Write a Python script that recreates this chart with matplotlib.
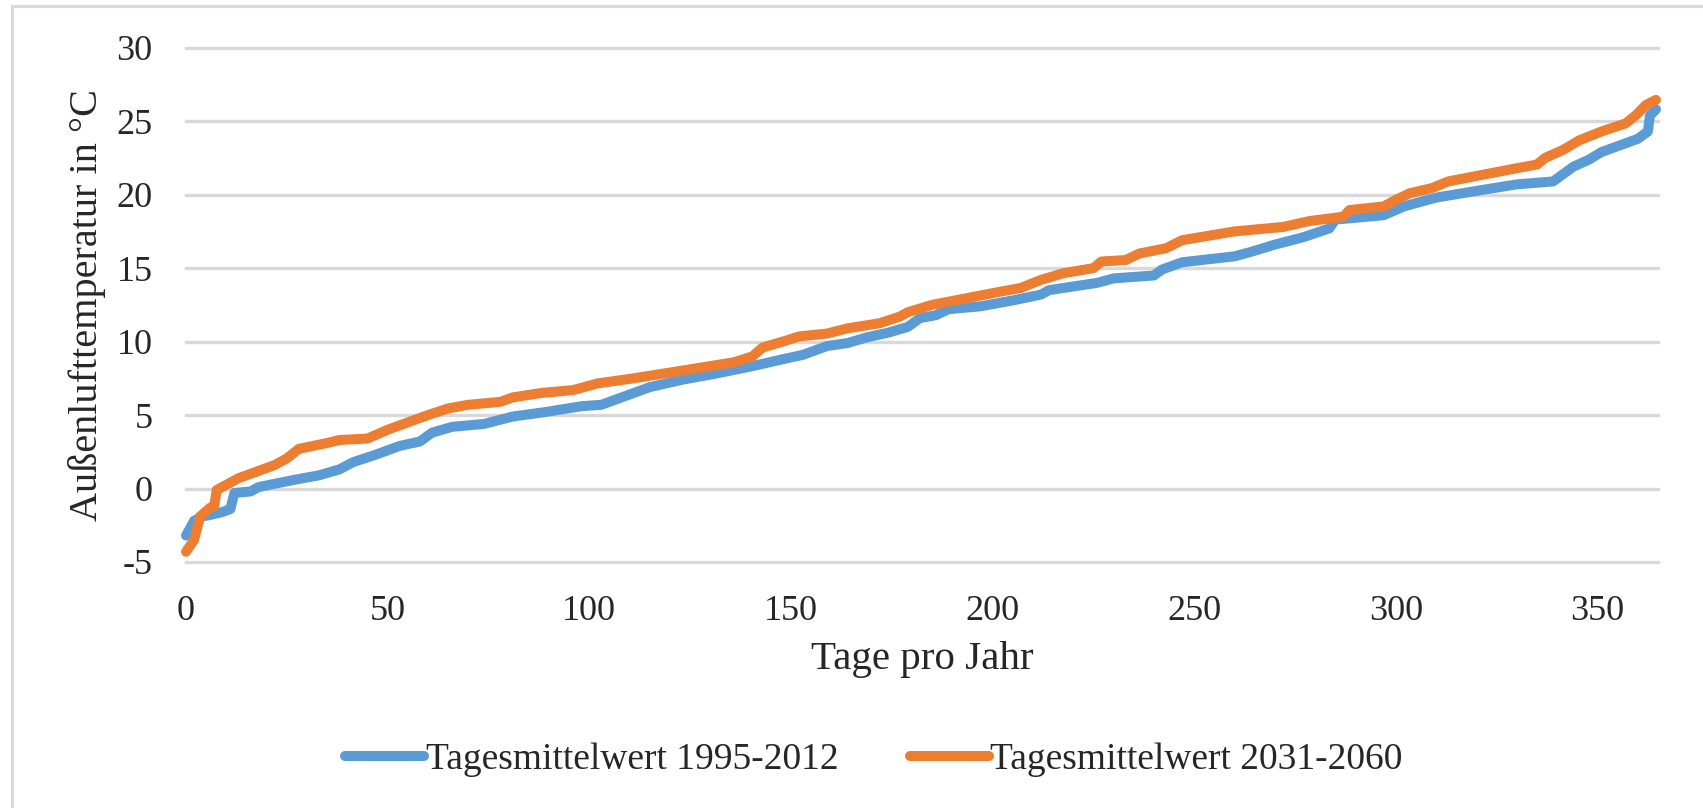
import matplotlib
matplotlib.use("Agg")
import matplotlib.pyplot as plt
from matplotlib.patches import Rectangle

# Tagesmittelwerte, sortiert (Dauerlinie)
days_1995 = [0, 2, 4, 6, 9, 11, 12, 16, 18, 27, 33, 38, 41.5, 47, 53, 58, 61, 66,
             74, 81, 89, 98, 103, 109, 115, 123, 131, 140, 148, 153, 159, 164,
             169, 174, 179, 182, 186, 189, 197, 205, 212, 214, 226, 230, 240,
             242, 247, 260, 264, 270, 277, 283.5, 285, 297, 302, 310, 321, 330,
             339, 341, 344, 348, 351, 356, 360, 362.5, 363, 364.5]
temp_1995 = [-3.2, -2.2, -1.9, -1.8, -1.6, -1.4, -0.3, -0.2, 0.1, 0.6, 0.9, 1.3,
             1.8, 2.3, 2.9, 3.2, 3.8, 4.2, 4.4, 4.9, 5.2, 5.6, 5.7, 6.3, 6.9,
             7.4, 7.8, 8.3, 8.8, 9.1, 9.7, 9.9, 10.3, 10.6, 11.0, 11.6, 11.8,
             12.2, 12.4, 12.8, 13.2, 13.5, 14.0, 14.3, 14.5, 14.9, 15.4, 15.8,
             16.1, 16.6, 17.1, 17.7, 18.3, 18.6, 19.2, 19.8, 20.3, 20.7, 20.9,
             21.3, 21.9, 22.4, 22.9, 23.4, 23.8, 24.3, 25.4, 25.8]

days_2031 = [0, 2, 3.5, 6, 7, 7.6, 10, 13, 17.5, 22, 25, 28, 35, 38, 45, 50, 55,
             60, 65, 70, 78, 81, 88, 96, 102, 111, 119, 127, 136, 140.5, 143,
             148, 152, 159, 164, 172, 177, 179, 185, 193.5, 202, 207, 212,
             217.5, 225, 227, 233, 236.5, 243, 247, 260, 272, 278.5, 287, 288.5,
             297, 300, 303.5, 309, 313, 321.5, 330, 335, 337, 341.5, 345.5, 351,
             357, 359.5, 362, 364.5]
temp_2031 = [-4.3, -3.5, -1.9, -1.3, -1.2, -0.1, 0.25, 0.7, 1.15, 1.6, 2.05, 2.7,
             3.1, 3.3, 3.4, 4.0, 4.5, 5.0, 5.45, 5.7, 5.9, 6.2, 6.5, 6.7, 7.15,
             7.5, 7.85, 8.2, 8.6, 9.0, 9.6, 10.0, 10.35, 10.55, 10.9, 11.25,
             11.7, 12.0, 12.5, 12.95, 13.4, 13.65, 14.2, 14.65, 15.0, 15.45,
             15.55, 16.0, 16.35, 16.9, 17.5, 17.8, 18.2, 18.5, 18.95, 19.2,
             19.65, 20.1, 20.45, 20.9, 21.35, 21.8, 22.05, 22.5, 23.05, 23.7,
             24.3, 24.85, 25.4, 26.1, 26.45]

label_1995 = "Tagesmittelwert 1995-2012"
label_2031 = "Tagesmittelwert 2031-2060"

plt.rcParams["font.family"] = ["Liberation Serif", "DejaVu Serif"]
plt.rcParams["axes.unicode_minus"] = False

W, H = 1703, 808
fig = plt.figure(figsize=(W / 100, H / 100), dpi=100)
ax = fig.add_axes([186 / W, 1 - 562 / H, 1472 / W, 514.3 / H])

ax.plot(days_1995, temp_1995, color="#5B9BD5", lw=7.2, solid_capstyle="round",
        solid_joinstyle="round", clip_on=False, label=label_1995)
ax.plot(days_2031, temp_2031, color="#ED7D31", lw=7.2, solid_capstyle="round",
        solid_joinstyle="round", clip_on=False, label=label_2031)

ax.set_xlim(0, 365)
ax.set_ylim(-5, 30)
ax.set_xticks(range(0, 351, 50))
ax.set_yticks(range(-5, 31, 5))
ax.grid(axis="y", color="#D9D9D9", lw=2.4)
ax.set_axisbelow(True)
for gl in ax.get_ygridlines():
    gl.set_clip_on(False)
for s in ax.spines.values():
    s.set_visible(False)
ax.tick_params(length=0, labelsize=26, colors="#262626")
ax.tick_params(axis="y", pad=24)
ax.tick_params(axis="x", pad=24)

ax.set_xlabel("Tage pro Jahr", fontsize=29.5, color="#262626")
ax.xaxis.label.set_va("center")
ax.xaxis.set_label_coords(0.5, -(660 - 562) / 514.3)
ax.set_ylabel("Außenlufttemperatur in °C", fontsize=29, color="#262626")
ax.yaxis.label.set_va("center")
ax.yaxis.set_label_coords(-(186 - 87) / 1472, 0.5)

fig.legend(loc="center", bbox_to_anchor=(874 / W, 1 - 760 / H), ncol=2,
           frameon=False, fontsize=27, handlelength=2.1, handletextpad=0.05,
           columnspacing=1.9, labelcolor="#262626")

# Rahmen des Diagrammbereichs (rechts/unten abgeschnitten)
fig.add_artist(Rectangle((12 / W, -0.5), 1.5, 0.5 + 1 - 6 / H, fill=False,
                         ec="#D9D9D9", lw=2.2, transform=fig.transFigure))

fig.savefig("out.png", dpi=100)
